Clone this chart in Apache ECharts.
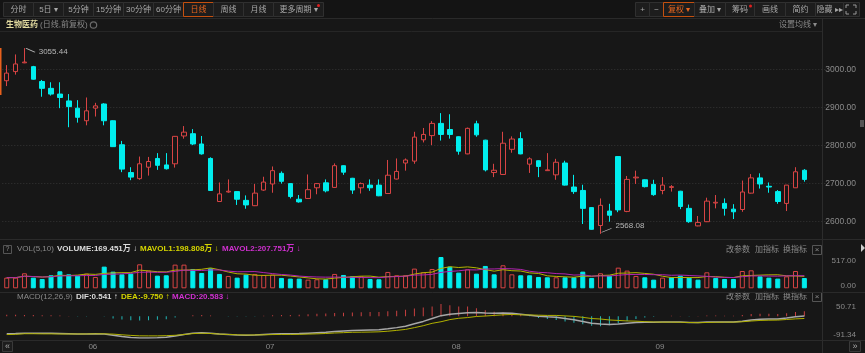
<!DOCTYPE html>
<html>
<head>
<meta charset="utf-8">
<script src="https://cdn.jsdelivr.net/npm/echarts@6/dist/echarts.min.js"></script>
<style>
  html, body { margin: 0; padding: 0; background: #171717; }
  #main { width: 865px; height: 353px; }
</style>
</head>
<body>
<div id="main"></div>
<script>
// trading days, 2023-05-18 .. 2023-09-25
const may = [18, 19, 22, 23, 24, 25, 26, 29, 30, 31];
const jun = [1, 2, 5, 6, 7, 8, 9, 12, 13, 14, 15, 16, 19, 20, 21, 26, 27, 28, 29, 30];
const jul = [3, 4, 5, 6, 7, 10, 11, 12, 13, 14, 17, 18, 19, 20, 21, 24, 25, 26, 27, 28, 31];
const aug = [1, 2, 3, 4, 7, 8, 9, 10, 11, 14, 15, 16, 17, 18, 21, 22, 23, 24, 25, 28, 29, 30, 31];
const sep = [1, 4, 5, 6, 7, 8, 11, 12, 13, 14, 15, 18, 19, 20, 21, 22, 25];

const opens = [2970, 2994, 3017, 3007, 2968, 2950, 2935, 2917, 2898, 2865,
  2898, 2909, 2865, 2802, 2729, 2713, 2743, 2766, 2749, 2752,
  2825, 2831, 2804, 2766, 2653, 2678, 2679, 2656, 2642, 2683,
  2699, 2727, 2700, 2659, 2661, 2689, 2702, 2690, 2747, 2714,
  2689, 2696, 2696, 2674, 2712, 2754, 2759, 2815, 2826, 2858,
  2842, 2823, 2778, 2857, 2814, 2729, 2724, 2790, 2818, 2751,
  2760, 2734, 2723, 2754, 2691, 2682, 2637, 2590, 2628, 2771,
  2627, 2715, 2710, 2698, 2682, 2690, 2680, 2635, 2589, 2600,
  2649, 2648, 2633, 2632, 2675, 2715, 2693, 2679, 2648, 2689, 2735];
const closes = [2990, 3014, 3019, 2974, 2950, 2935, 2926, 2902, 2874, 2891,
  2904, 2865, 2797, 2738, 2717, 2752, 2758, 2748, 2739, 2824,
  2835, 2804, 2778, 2682, 2673, 2680, 2659, 2644, 2675, 2704,
  2734, 2706, 2666, 2652, 2684, 2700, 2681, 2747, 2730, 2683,
  2700, 2689, 2668, 2722, 2732, 2762, 2822, 2829, 2858, 2829,
  2829, 2785, 2845, 2828, 2736, 2735, 2806, 2817, 2778, 2765,
  2745, 2736, 2756, 2696, 2679, 2635, 2580, 2643, 2617, 2631,
  2711, 2717, 2692, 2671, 2696, 2692, 2640, 2600, 2598, 2654,
  2651, 2635, 2626, 2678, 2715, 2699, 2691, 2653, 2696, 2731, 2711];
const lows = [2956, 2986, 3016, 2973, 2928, 2931, 2898, 2848, 2860, 2853,
  2876, 2853, 2796, 2730, 2709, 2710, 2721, 2736, 2737, 2742,
  2818, 2801, 2776, 2681, 2652, 2676, 2644, 2634, 2641, 2681,
  2676, 2700, 2661, 2650, 2660, 2672, 2677, 2689, 2723, 2673,
  2674, 2681, 2667, 2673, 2711, 2734, 2752, 2808, 2801, 2813,
  2818, 2776, 2777, 2823, 2732, 2717, 2723, 2781, 2777, 2728,
  2717, 2734, 2710, 2695, 2673, 2594, 2579, 2568.08, 2600, 2625,
  2625, 2699, 2690, 2668, 2672, 2679, 2633, 2597, 2588, 2599,
  2635, 2616, 2607, 2626, 2674, 2687, 2676, 2647, 2628, 2689, 2705];
const highs = [3011, 3039, 3055.44, 3009, 2972, 2966, 2966, 2935, 2919, 2926,
  2912, 2911, 2866, 2812, 2743, 2771, 2770, 2780, 2780, 2825,
  2851, 2843, 2825, 2769, 2703, 2711, 2680, 2669, 2699, 2718,
  2745, 2732, 2701, 2670, 2724, 2701, 2711, 2753, 2748, 2715,
  2703, 2711, 2711, 2762, 2766, 2766, 2836, 2846, 2864, 2885,
  2882, 2824, 2847, 2865, 2815, 2752, 2836, 2824, 2835, 2769,
  2761, 2780, 2765, 2760, 2723, 2697, 2638, 2661, 2647, 2772,
  2720, 2734, 2711, 2710, 2717, 2696, 2681, 2645, 2615, 2663,
  2670, 2661, 2646, 2708, 2725, 2727, 2703, 2683, 2696, 2743, 2738];

// volume, 万
const volumes = [176, 176, 248, 176, 154, 215, 281, 231, 209, 242,
  187, 358, 275, 231, 242, 396, 292, 209, 215, 391,
  391, 319, 253, 330, 237, 204, 176, 226, 237, 220,
  226, 171, 160, 160, 143, 149, 149, 237, 220, 198,
  198, 154, 149, 270, 215, 215, 325, 264, 319, 517,
  358, 259, 314, 242, 369, 231, 380, 231, 215, 215,
  187, 182, 182, 182, 182, 275, 171, 248, 209, 341,
  292, 204, 182, 143, 176, 182, 209, 176, 143, 264,
  171, 154, 154, 286, 297, 198, 176, 160, 198, 286, 169.451];

const dif = [-74, -73, -71, -71, -72, -72, -73, -74, -75, -75,
  -74, -75, -80, -85, -89, -91.34, -91, -90, -88, -83,
  -77, -71, -69, -71, -75, -77, -79, -80, -79, -77,
  -75, -74, -74, -73, -71, -69, -67, -64, -62, -60,
  -59, -58, -57, -53, -48, -42, -32, -22, -10, 2,
  8, 11, 14, 15, 13, 12, 13, 12, 8, 4,
  0, -3, -5, -10, -15, -22, -30, -33, -35, -33,
  -30, -27, -26, -26, -25, -24, -25, -27, -27, -25,
  -24, -24, -24, -21, -16, -13, -12, -12, -8, -3, 0.541];
const dea = [-77, -76, -73.5, -73.5, -74, -74, -74.5, -74.5, -74.5, -74.5,
  -74, -74, -75, -78, -80.5, -82.3, -82.5, -82.5, -81.5, -80,
  -77, -73, -71.5, -72.5, -75, -76.5, -78, -79, -78.5, -78,
  -77, -76.5, -76.5, -76, -75, -74, -72.5, -70.5, -69, -67.5,
  -67, -66.5, -65.5, -63, -59.5, -55.5, -48, -40, -30, -23.4,
  -14.5, -9, -6, -1.5, 0.5, 3, 5.5, 7, 5.5, 5,
  4, 3, 3, 1, -1, -5, -10, -12, -16, -18,
  -20, -21, -23, -24.5, -25, -25, -25.5, -26.5, -27.5, -26.5,
  -25.5, -25, -25, -23.5, -20.5, -18, -17, -16.5, -14, -11.5, -9.75];
const macd = [6, 6, 5, 5, 4, 4, 3, 1, -1, -1,
  0, -2, -10, -14, -17, -18, -17, -15, -13, -6,
  0, 4, 5, 3, 0, -1, -2, -2, -1, 2,
  4, 5, 5, 6, 8, 10, 11, 13, 14, 15,
  16, 17, 17, 20, 23, 27, 32, 36, 40, 50.71,
  45, 40, 40, 33, 25, 18, 15, 10, 5, -2,
  -8, -12, -16, -22, -28, -34, -40, -42, -38, -30,
  -20, -12, -6, -3, 0, 2, 1, -1, 1, 3,
  3, 2, 2, 5, 9, 10, 10, 9, 12, 17, 20.583];

const priceTicks = [2600, 3000, 100];
const volTicks = [0, 517];
const macdTicks = [-91.34, 50.71];

const BG = '#171717';
const RED = '#d84444';
const CYAN = '#00eeee';
const GREY = '#8a8a8a';
const FONT = "'Liberation Sans', 'Noto Sans CJK SC', sans-serif";

const pad = (n) => (n < 10 ? '0' + n : '' + n);
const dates = [].concat(
  may.map(d => '2023-05-' + pad(d)),
  jun.map(d => '2023-06-' + pad(d)),
  jul.map(d => '2023-07-' + pad(d)),
  aug.map(d => '2023-08-' + pad(d)),
  sep.map(d => '2023-09-' + pad(d))
);
// two empty slots on the right, as the terminal leaves them
const cats = dates.concat(['', '']);

const kData = opens.map((o, i) => [o, closes[i], lows[i], highs[i]]);

const volData = volumes.map((v, i) => {
  const up = i === 0 ? closes[i] >= opens[i] : closes[i] > closes[i - 1];
  return {
    value: v,
    itemStyle: up
      ? { color: BG, borderColor: RED, borderWidth: 1 }
      : { color: CYAN, borderColor: CYAN, borderWidth: 1 }
  };
});

function ma(arr, n) {
  return arr.map((v, i) => {
    const from = Math.max(0, i - n + 1);
    let s = 0;
    for (let j = from; j <= i; j++) s += arr[j];
    return +(s / (i - from + 1)).toFixed(3);
  });
}

const macdData = macd.map(v => ({
  value: v,
  itemStyle: { color: v >= 0 ? '#c84040' : '#22b8b8' }
}));

// highest / lowest tags
const hiIdx = highs.indexOf(Math.max.apply(null, highs));
const loIdx = lows.indexOf(Math.min.apply(null, lows));

// ---- static chrome: toolbar, panel headers, separators ----
const g = [];
function text(x, y, s, fill, size, extra) {
  g.push({
    type: 'text', x: x, y: y, silent: true,
    style: Object.assign({
      text: s, fill: fill, fontSize: size || 8, fontFamily: FONT,
      align: 'left', verticalAlign: 'middle'
    }, (extra && extra.style) || {})
  });
}
function rect(x, y, w, h, fill, stroke) {
  g.push({ type: 'rect', silent: true, shape: { x: x, y: y, width: w, height: h },
    style: { fill: fill || 'none', stroke: stroke || 'none', lineWidth: 1 } });
}
function hline(x1, x2, y, color) {
  g.push({ type: 'line', silent: true, shape: { x1: x1, y1: y, x2: x2, y2: y },
    style: { stroke: color, lineWidth: 1 } });
}
function vline(x, y1, y2, color) {
  g.push({ type: 'line', silent: true, shape: { x1: x, y1: y1, x2: x, y2: y2 },
    style: { stroke: color, lineWidth: 1 } });
}

rect(0, 0, 865, 18, '#141414');
const leftBtns = [['分时', 3, 30], ['5日 ▾', 33, 30], ['5分钟', 63, 30], ['15分钟', 93, 30],
  ['30分钟', 123, 30], ['60分钟', 153, 30], ['日线', 183, 30], ['周线', 213, 30],
  ['月线', 243, 30], ['更多周期 ▾', 273, 50]];
const rightBtns = [['+', 635, 14], ['−', 649, 14], ['复权 ▾', 663, 31], ['叠加 ▾', 694, 31],
  ['筹码', 725, 29], ['画线', 754, 31], ['简约', 785, 30], ['隐藏 ▸▸', 815, 28], ['', 843, 16]];
leftBtns.concat(rightBtns).forEach(([s, x, w]) => {
  const sel = s === '日线' || s === '复权 ▾';
  rect(x + 0.5, 2.5, w, 14, '#1d1d1d', sel ? '#c4500f' : '#303030');
  text(x + w / 2 + 0.5, 10, s, sel ? '#e8661e' : '#a8a8a8', 8, { style: { align: 'center' } });
});
g.push({ type: 'circle', silent: true, shape: { cx: 318.5, cy: 5.5, r: 1.5 }, style: { fill: '#e02020' } });
g.push({ type: 'circle', silent: true, shape: { cx: 750.5, cy: 6, r: 1.5 }, style: { fill: '#e02020' } });
// fullscreen glyph
[[[846, 8], [846, 5], [849, 5]], [[853, 5], [856, 5], [856, 8]],
 [[846, 11], [846, 14], [849, 14]], [[853, 14], [856, 14], [856, 11]]].forEach(pts => {
  g.push({ type: 'polyline', silent: true, shape: { points: pts }, style: { stroke: '#999', fill: 'none' } });
});

hline(0, 865, 18.5, '#2a2a2a');
text(6, 25, '生物医药', '#e4dca0', 8, { style: { fontWeight: 'bold' } });
text(40, 25, '(日线,前复权)', GREY, 8);
g.push({ type: 'circle', silent: true, shape: { cx: 93.5, cy: 25, r: 3.2 }, style: { fill: 'none', stroke: '#6a6a6a', lineWidth: 1.2 } });
text(779, 25, '设置均线 ▾', GREY, 8);
hline(0, 823, 31.5, '#262626');
vline(822.5, 18.5, 353, '#2c2c2c');
rect(0, 48, 1.5, 47, '#e8601c');
rect(860, 120, 4, 7, '#555555');

// volume panel header
hline(0, 865, 239.5, '#2a2a2a');
rect(3.5, 245.5, 8, 8, 'none', '#555');
text(7.5, 249.5, '?', GREY, 7, { style: { align: 'center' } });
text(17, 249, 'VOL(5,10)', GREY, 8);
text(57, 249, 'VOLUME:169.451万 ↓', '#dcdcdc', 8, { style: { fontWeight: 'bold' } });
text(140, 249, 'MAVOL1:198.808万 ↓', '#d4d400', 8, { style: { fontWeight: 'bold' } });
text(222, 249, 'MAVOL2:207.751万 ↓', '#d030d0', 8, { style: { fontWeight: 'bold' } });
[[250, 246], [297, 293]].forEach(([ty, by]) => {
  text(726, ty, '改参数', GREY, 8);
  text(755, ty, '加指标', GREY, 8);
  text(783, ty, '换指标', GREY, 8);
  rect(812.5, by - 0.5, 9, 9, 'none', '#555');
  text(817, ty, '×', GREY, 8, { style: { align: 'center' } });
});
g.push({ type: 'polygon', silent: true, shape: { points: [[861, 244], [865, 248], [861, 252]] }, style: { fill: '#cccccc' } });

// macd panel header
hline(0, 865, 292.5, '#2a2a2a');
text(17, 297, 'MACD(12,26,9)', GREY, 8);
text(76, 297, 'DIF:0.541 ↑', '#dcdcdc', 8, { style: { fontWeight: 'bold' } });
text(121, 297, 'DEA:-9.750 ↑', '#d4d400', 8, { style: { fontWeight: 'bold' } });
text(172, 297, 'MACD:20.583 ↓', '#d030d0', 8, { style: { fontWeight: 'bold' } });

// small axis labels of the lower panels
text(856, 260.3, volTicks[1].toFixed(2), GREY, 8, { style: { align: 'right' } });
text(856, 285.7, volTicks[0].toFixed(2), GREY, 8, { style: { align: 'right' } });
text(856, 306.7, macdTicks[1].toFixed(2), GREY, 8, { style: { align: 'right' } });
text(856, 335, macdTicks[0].toFixed(2), GREY, 8, { style: { align: 'right' } });

// bottom strip
hline(0, 865, 340.5, '#2a2a2a');
rect(2.5, 341.5, 10, 10, '#1d1d1d', '#3a3a3a');
text(7.5, 346.5, '«', '#aaa', 9, { style: { align: 'center' } });
rect(849.5, 341.5, 11, 10, '#1d1d1d', '#3a3a3a');
text(855, 346.5, '»', '#aaa', 9, { style: { align: 'center' } });

const GL = 2.3, GW = 824.2;

const chart = echarts.init(document.getElementById('main'), null, { renderer: 'canvas' });
chart.setOption({
  backgroundColor: BG,
  animation: false,
  textStyle: { fontFamily: FONT },
  grid: [
    { left: GL, width: GW, top: 69.3, height: 152.4 },
    { left: GL, width: GW, top: 257, height: 31.3 },
    { left: GL, width: GW, top: 304, height: 34 }
  ],
  xAxis: [0, 1, 2].map(i => ({
    type: 'category',
    gridIndex: i,
    data: cats,
    boundaryGap: true,
    axisLine: { show: false },
    axisTick: { show: false },
    splitLine: { show: false },
    axisLabel: i < 2 ? { show: false } : {
      show: true,
      interval: 0,
      color: GREY,
      fontSize: 8,
      margin: 5,
      padding: [0, 5, 0, 0],
      formatter: (v, idx) => {
        if (!v || idx === 0) return '';
        const m = v.slice(5, 7);
        return m !== dates[idx - 1].slice(5, 7) ? m : '';
      }
    }
  })),
  yAxis: [
    {
      type: 'value', gridIndex: 0, position: 'right',
      min: priceTicks[0], max: priceTicks[1], interval: priceTicks[2],
      axisLine: { show: false }, axisTick: { show: false },
      splitLine: { lineStyle: { color: '#353535', type: [1, 2] } },
      axisLabel: {
        color: GREY, fontSize: 8.5, align: 'right', margin: 856 - (GL + GW),
        formatter: v => v.toFixed(2)
      }
    },
    { type: 'value', gridIndex: 1, min: volTicks[0], max: volTicks[1], show: false, splitLine: { show: false } },
    { type: 'value', gridIndex: 2, min: macdTicks[0], max: macdTicks[1], show: false, splitLine: { show: false } }
  ],
  series: [
    {
      type: 'candlestick',
      xAxisIndex: 0, yAxisIndex: 0,
      data: kData,
      barWidth: 5,
      clip: false,
      itemStyle: {
        color: BG, color0: CYAN,
        borderColor: RED, borderColor0: CYAN,
        borderWidth: 1
      }
    },
    {
      // high / low tags, a short leader line plus the price
      type: 'scatter',
      xAxisIndex: 0, yAxisIndex: 0,
      clip: false,
      silent: true,
      itemStyle: { color: 'none', borderColor: '#dddddd', borderWidth: 1 },
      label: {
        show: true, position: 'right', distance: 0,
        color: '#dcdcdc', fontSize: 8, fontFamily: FONT,
        formatter: p => p.value[1].toFixed(2)
      },
      data: [
        {
          value: [hiIdx, highs[hiIdx]],
          symbol: 'path://M0,0L10,4', symbolSize: [9, 4], symbolOffset: [6, 2],
          label: { offset: [0, 2] }
        },
        {
          value: [loIdx, lows[loIdx]],
          symbol: 'path://M0,4L10,0', symbolSize: [10, 4], symbolOffset: [6, -3.5],
          label: { offset: [0, -5] }
        }
      ]
    },
    {
      name: 'VOLUME', type: 'bar',
      xAxisIndex: 1, yAxisIndex: 1,
      data: volData, barWidth: 5
    },
    {
      name: 'MAVOL1', type: 'line', xAxisIndex: 1, yAxisIndex: 1,
      data: ma(volumes, 5), symbol: 'none',
      lineStyle: { color: '#b4b400', width: 1 }
    },
    {
      name: 'MAVOL2', type: 'line', xAxisIndex: 1, yAxisIndex: 1,
      data: ma(volumes, 10), symbol: 'none',
      lineStyle: { color: '#b024b0', width: 1 }
    },
    {
      name: 'MACD', type: 'bar', xAxisIndex: 2, yAxisIndex: 2,
      data: macdData, barWidth: 1
    },
    {
      name: 'DIF', type: 'line', xAxisIndex: 2, yAxisIndex: 2,
      data: dif, symbol: 'none',
      lineStyle: { color: '#a8a8a8', width: 1.5 }
    },
    {
      name: 'DEA', type: 'line', xAxisIndex: 2, yAxisIndex: 2,
      data: dea, symbol: 'none',
      lineStyle: { color: '#b0b000', width: 1 }
    }
  ],
  graphic: { elements: g }
});
</script>
</body>
</html>
